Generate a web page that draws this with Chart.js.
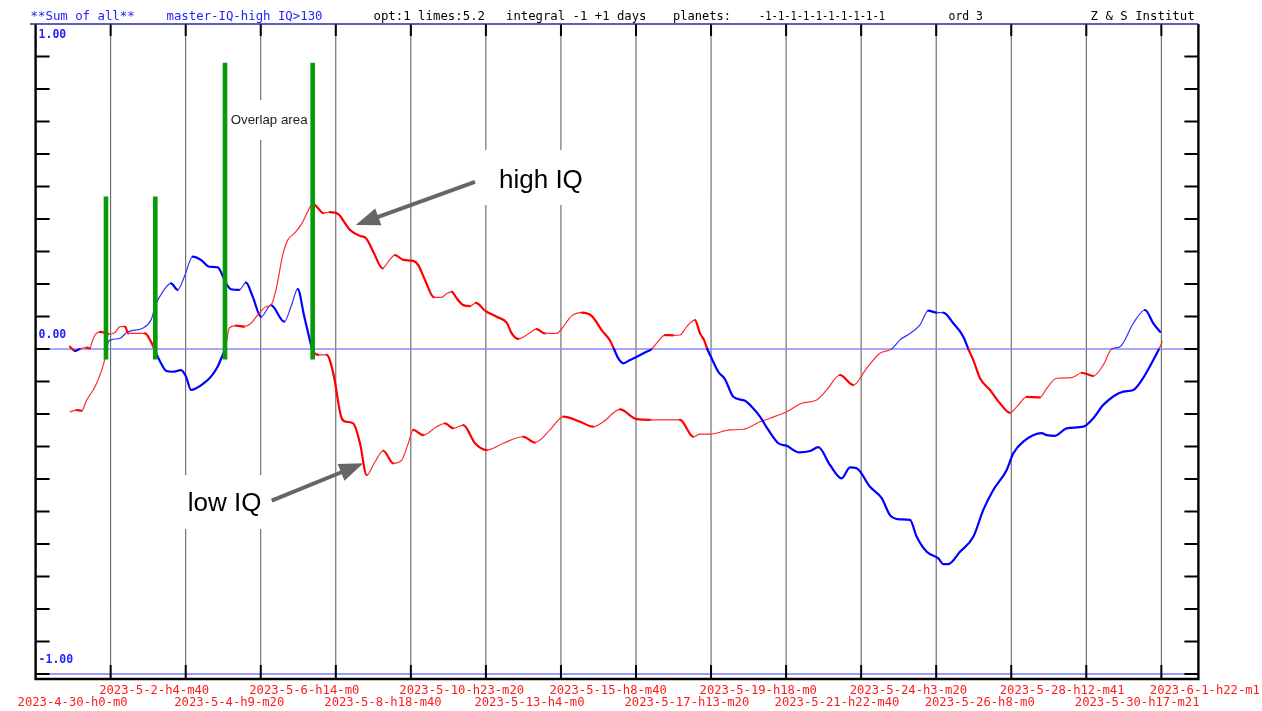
<!DOCTYPE html>
<html>
<head>
<meta charset="utf-8">
<script src="https://cdn.jsdelivr.net/npm/chart.js@4"></script>
<style>
html,body{margin:0;padding:0;background:#fff;}
canvas{display:block;}
</style>
</head>
<body>
<canvas id="c" width="1262" height="711"></canvas>
<script>
// ---- tick labels / positions (days since 2023-4-30 h0) ----
const tickDays = [0, 2.1944, 4.3889, 6.5833, 8.7778, 10.9722, 13.1667, 15.3611, 17.5556, 19.75, 21.9444, 24.1389, 26.3333, 28.5278, 30.7222, 32.9167];
const tickLabels = ["2023-4-30-h0-m0","2023-5-2-h4-m40","2023-5-4-h9-m20","2023-5-6-h14-m0","2023-5-8-h18-m40","2023-5-10-h23-m20","2023-5-13-h4-m0","2023-5-15-h8-m40","2023-5-17-h13-m20","2023-5-19-h18-m0","2023-5-21-h22-m40","2023-5-24-h3-m20","2023-5-26-h8-m0","2023-5-28-h12-m41","2023-5-30-h17-m21","2023-6-1-h22-m1"];
const yLabelValues = [1, 0, -1];
const yLabelTexts = ["1.00", "0.00", "-1.00"];

// ---- curve P (red above zero, blue below) ----
const pDays = [1.006,1.152,1.298,1.494,1.591,1.640,1.737,1.883,2.029,2.126,2.322,2.468,2.614,2.711,2.906,3.199,3.345,3.471,3.667,3.813,4.009,4.251,4.398,4.544,4.690,4.886,5.129,5.325,5.471,5.547,5.664,5.860,6.102,6.298,6.494,6.737,6.883,7.029,7.225,7.371,7.564,7.760,7.956,8.102,8.219,8.412,8.608,8.851,9.047,9.193,9.485,9.661,9.874,10.149,10.313,10.509,10.751,11.044,11.190,11.386,11.649,11.874,12.020,12.167,12.313,12.506,12.702,12.877,13.140,13.482,13.775,13.921,14.114,14.360,14.652,14.895,15.237,15.430,15.675,15.968,16.260,16.553,16.795,16.912,17.038,17.184,17.380,17.576,17.819,18.015,18.161,18.404,18.646,18.842,19.038,19.281,19.427,19.544,19.640,19.769,19.962,20.158,20.401,20.743,20.939,21.181,21.424,21.716,21.962,22.330,22.643,22.886,23.228,23.570,23.813,24.009,24.398,24.740,24.982,25.275,25.567,25.763,26.056,26.395,26.541,26.687,27.029,27.418,27.711,28.003,28.395,28.588,28.880,29.418,29.564,29.807,30.149,30.635,30.927,31.219,31.804,32.096,32.439,32.681,32.848,32.944];
const pVals = [0.007,-0.006,0,0.004,0.002,0.018,0.043,0.053,0.050,0.046,0.051,0.069,0.069,0.048,0.048,0.048,0.028,0,-0.044,-0.067,-0.070,-0.065,-0.085,-0.126,-0.121,-0.108,-0.085,-0.054,-0.018,0,0.064,0.072,0.069,0.079,0.105,0.130,0.135,0.182,0.289,0.335,0.356,0.382,0.422,0.448,0.438,0.418,0.421,0.415,0.387,0.366,0.348,0.341,0.299,0.248,0.269,0.289,0.274,0.271,0.258,0.212,0.159,0.159,0.171,0.176,0.156,0.135,0.132,0.142,0.118,0.099,0.081,0.048,0.031,0.043,0.061,0.048,0.048,0.069,0.102,0.112,0.102,0.058,0.026,0,-0.029,-0.044,-0.034,-0.024,-0.011,0,0.018,0.043,0.042,0.043,0.069,0.089,0.048,0.028,0,-0.029,-0.070,-0.093,-0.147,-0.159,-0.178,-0.208,-0.249,-0.290,-0.298,-0.318,-0.314,-0.302,-0.357,-0.398,-0.364,-0.367,-0.424,-0.459,-0.511,-0.524,-0.526,-0.578,-0.624,-0.644,-0.662,-0.662,-0.624,-0.578,-0.495,-0.434,-0.372,-0.321,-0.285,-0.259,-0.265,-0.267,-0.244,-0.239,-0.213,-0.172,-0.131,-0.126,-0.080,-0.034,0,0.022];

// ---- curve Q (blue above zero, red below) ----
const qDays = [1.006,1.202,1.348,1.494,1.737,1.933,2.029,2.079,2.126,2.272,2.468,2.693,3.132,3.374,3.520,3.716,3.959,4.155,4.348,4.594,4.836,5.079,5.325,5.567,5.713,5.956,6.152,6.348,6.591,6.883,7.272,7.468,7.664,7.857,8.053,8.082,8.266,8.512,8.705,8.950,9.096,9.289,9.485,9.681,9.924,10.167,10.459,10.705,10.898,11.044,11.336,11.728,11.971,12.213,12.506,12.848,13.190,13.675,14.260,14.602,15.041,15.430,15.918,16.307,16.599,17.088,17.576,17.965,18.453,18.842,19.231,19.427,19.719,20.304,20.693,21.181,21.474,21.962,22.401,22.839,23.132,23.520,23.909,24.301,24.690,25.032,25.275,25.567,25.860,26.102,26.348,26.541,26.833,27.126,27.272,27.418,27.614,27.906,28.199,28.491,28.687,28.980,29.368,29.564,29.857,30.295,30.588,30.927,31.219,31.465,31.708,32.096,32.439,32.681,32.877];
const qVals = [-0.193,-0.188,-0.190,-0.157,-0.116,-0.065,-0.029,0,0.022,0.030,0.033,0.053,0.064,0.089,0.138,0.176,0.202,0.182,0.222,0.284,0.274,0.253,0.251,0.202,0.184,0.182,0.204,0.161,0.099,0.135,0.084,0.130,0.184,0.099,0.012,0,-0.018,-0.018,-0.075,-0.213,-0.224,-0.229,-0.290,-0.388,-0.347,-0.313,-0.352,-0.342,-0.290,-0.249,-0.265,-0.239,-0.229,-0.244,-0.234,-0.290,-0.311,-0.290,-0.270,-0.288,-0.249,-0.208,-0.224,-0.239,-0.224,-0.186,-0.216,-0.218,-0.218,-0.218,-0.270,-0.262,-0.262,-0.249,-0.247,-0.224,-0.213,-0.193,-0.167,-0.157,-0.126,-0.080,-0.111,-0.059,-0.013,0,0.028,0.048,0.074,0.118,0.112,0.112,0.079,0.038,0,-0.034,-0.090,-0.126,-0.167,-0.196,-0.178,-0.147,-0.149,-0.121,-0.090,-0.088,-0.073,-0.083,-0.049,0,0.007,0.079,0.120,0.079,0.053];

// ---- green marker bars ----
const barDays = [2.058, 3.500, 5.538, 8.102];
const barTops = [0.468, 0.468, 0.880, 0.880];
const barLow = -0.031;

// ---- header texts ----
const headerTexts = ["**Sum of all**", "master-IQ-high IQ>130", "opt:1 limes:5.2", "integral -1 +1 days", "planets:", "-1-1-1-1-1-1-1-1-1-1", "ord 3", "Z & S Institut"];

// ---- annotations ----
const annotTexts = ["high IQ", "low IQ", "Overlap area"];

const RED = '#ff0000', BLUE = '#0000ff', RED_T = '#ff2a2a', BLUE_T = '#3030ff';

function segStyle(vals, posColor, posThin, negColor, negThin, negAlwaysThick) {
  const info = ctx => {
    const a = vals[ctx.p0DataIndex], b = vals[ctx.p1DataIndex];
    const pos = (a + b) > 0;
    const thick = (b < a) || (negAlwaysThick && !pos);
    return {pos, thick};
  };
  return {
    borderColor: ctx => { const i = info(ctx); return i.pos ? (i.thick ? posColor : posThin) : (i.thick ? negColor : negThin); },
    borderWidth: ctx => info(ctx).thick ? 2.2 : 1.2
  };
}

const decor = {
  id: 'decor',
  beforeDraw(chart) {
    const c = chart.ctx;
    c.save();
    c.fillStyle = '#fff';
    c.fillRect(0, 0, chart.width, chart.height);
    c.restore();
  },
  beforeDatasetsDraw(chart) {
    const c = chart.ctx, xs = chart.scales.x, ys = chart.scales.y, a = chart.chartArea;
    c.save();
    c.strokeStyle = '#555';
    c.lineWidth = 1;
    tickDays.forEach((d, k) => {
      if (k === 0) return;
      const x = xs.getPixelForValue(d);
      c.beginPath(); c.moveTo(x, a.top); c.lineTo(x, a.bottom); c.stroke();
    });
    c.fillStyle = '#fff';
    const box = (d0, v0, d1, v1) => {
      const x0 = xs.getPixelForValue(d0), x1 = xs.getPixelForValue(d1);
      const y0 = ys.getPixelForValue(v0), y1 = ys.getPixelForValue(v1);
      c.fillRect(x0, y0, x1 - x0, y1 - y0);
    };
    box(12.02, 0.612, 16.50, 0.443);
    box(5.63, 0.766, 8.05, 0.643);
    box(4.32, -0.388, 6.80, -0.554);
    c.strokeStyle = '#8a8aff';
    c.lineWidth = 1.4;
    let y = ys.getPixelForValue(0);
    c.beginPath(); c.moveTo(a.left, y); c.lineTo(a.right, y); c.stroke();
    c.strokeStyle = '#3a3aff';
    c.lineWidth = 1.2;
    y = ys.getPixelForValue(-1);
    c.beginPath(); c.moveTo(a.left, y); c.lineTo(a.right, y); c.stroke();
    c.restore();
  },
  afterDatasetsDraw(chart) {
    const c = chart.ctx, xs = chart.scales.x, ys = chart.scales.y, a = chart.chartArea;
    c.save();
    c.strokeStyle = '#000';
    c.lineWidth = 2;
    tickDays.forEach((d, k) => {
      if (k === 0) return;
      const x = xs.getPixelForValue(d);
      c.beginPath(); c.moveTo(x, a.bottom); c.lineTo(x, a.bottom - 13); c.stroke();
      c.beginPath(); c.moveTo(x, a.top); c.lineTo(x, a.top + 12); c.stroke();
    });
    for (let i = -10; i <= 9; i++) {
      const yy = ys.getPixelForValue(i / 10);
      c.beginPath(); c.moveTo(a.left, yy); c.lineTo(a.left + 14, yy); c.stroke();
      c.beginPath(); c.moveTo(a.right, yy); c.lineTo(a.right - 14, yy); c.stroke();
    }
    c.lineWidth = 2.4;
    c.strokeStyle = '#000';
    c.beginPath();
    c.moveTo(a.left, a.top); c.lineTo(a.left, a.bottom + 1); c.lineTo(a.right, a.bottom + 1); c.lineTo(a.right, a.top);
    c.stroke();
    c.strokeStyle = '#2a2a9a';
    c.lineWidth = 1.5;
    c.beginPath(); c.moveTo(30, a.top); c.lineTo(a.right, a.top); c.stroke();

    c.fillStyle = '#2323ff';
    c.font = 'bold 11.5px "DejaVu Sans Mono", monospace';
    c.textBaseline = 'middle';
    c.textAlign = 'left';
    yLabelValues.forEach((v, i) => {
      const yy = ys.getPixelForValue(v) + (v === 1 ? 11 : -13.5);
      c.fillText(yLabelTexts[i], a.left + 3, yy);
    });

    c.fillStyle = '#ff1a1a';
    c.font = '12.2px "DejaVu Sans Mono", monospace';
    tickDays.forEach((d, k) => {
      const x = xs.getPixelForValue(d) + (k === 0 ? -18 : -11.5);
      const yy = (k % 2 === 1) ? a.bottom + 13 : a.bottom + 25;
      c.fillText(tickLabels[k], x, yy);
    });

    c.font = '12.5px "DejaVu Sans Mono", monospace';
    const hx = [30.6, 166.5, 373.5, 506, 673, 759, 948.6, 1090.6];
    const hw = [104, 156, 111.5, 140.5, 58, 126, 34.4, 104];
    const hc = ['#2323ff', '#2323ff', '#000', '#000', '#000', '#000', '#000', '#000'];
    headerTexts.forEach((t, i) => {
      c.fillStyle = hc[i];
      c.fillText(t, hx[i], 17, hw[i]);
    });

    const arrow = (d0, v0, d1, v1) => {
      const x0 = xs.getPixelForValue(d0), y0 = ys.getPixelForValue(v0);
      const x1 = xs.getPixelForValue(d1), y1 = ys.getPixelForValue(v1);
      const ang = Math.atan2(y1 - y0, x1 - x0);
      const hl = 24, hw2 = 9;
      const bx = x1 - hl * Math.cos(ang), by = y1 - hl * Math.sin(ang);
      c.strokeStyle = '#666';
      c.fillStyle = '#666';
      c.lineWidth = 4;
      c.beginPath(); c.moveTo(x0, y0); c.lineTo(bx + 3 * Math.cos(ang), by + 3 * Math.sin(ang)); c.stroke();
      c.beginPath();
      c.moveTo(x1, y1);
      c.lineTo(bx + hw2 * Math.sin(ang), by - hw2 * Math.cos(ang));
      c.lineTo(bx - hw2 * Math.sin(ang), by + hw2 * Math.cos(ang));
      c.closePath(); c.fill();
    };
    arrow(12.848, 0.514, 9.360, 0.3815);
    arrow(6.904, -0.4668, 9.582, -0.3517);

    c.fillStyle = '#000';
    c.textBaseline = 'alphabetic';
    c.font = '26px "Liberation Sans", Arial, sans-serif';
    c.fillText(annotTexts[0], xs.getPixelForValue(13.55), ys.getPixelForValue(0.495));
    c.fillText(annotTexts[1], xs.getPixelForValue(4.447), ys.getPixelForValue(-0.4975));
    c.fillStyle = '#222';
    c.font = '13.3px "Liberation Sans", Arial, sans-serif';
    c.fillText(annotTexts[2], xs.getPixelForValue(5.705), ys.getPixelForValue(0.692));
    c.restore();
  }
};

new Chart(document.getElementById('c'), {
  type: 'line',
  data: {
    datasets: [
      {
        type: 'bar',
        data: barDays.map((d, i) => ({x: d, y: [barLow, barTops[i]]})),
        backgroundColor: '#089a08',
        barThickness: 4,
        order: 0
      },
      {
        type: 'line',
        data: pDays.map((d, i) => ({x: d, y: pVals[i]})),
        pointRadius: 0,
        borderColor: RED,
        borderWidth: 2,
        borderCapStyle: 'round',
        borderJoinStyle: 'round',
        cubicInterpolationMode: 'monotone',
        segment: segStyle(pVals, RED, RED_T, BLUE, BLUE_T, true),
        order: 1
      },
      {
        type: 'line',
        data: qDays.map((d, i) => ({x: d, y: qVals[i]})),
        pointRadius: 0,
        borderColor: BLUE,
        borderWidth: 2,
        borderCapStyle: 'round',
        borderJoinStyle: 'round',
        cubicInterpolationMode: 'monotone',
        segment: segStyle(qVals, BLUE, BLUE_T, RED, RED_T, false),
        order: 2
      }
    ]
  },
  options: {
    responsive: false,
    animation: false,
    events: [],
    layout: {padding: {left: 35.6, right: 63.6, top: 24, bottom: 33}},
    scales: {
      x: {type: 'linear', min: 0, max: 34, offset: false, display: false},
      y: {type: 'linear', min: -1.0123, max: 1, display: false}
    },
    plugins: {legend: {display: false}, tooltip: {enabled: false}}
  },
  plugins: [decor]
});
</script>
</body>
</html>
